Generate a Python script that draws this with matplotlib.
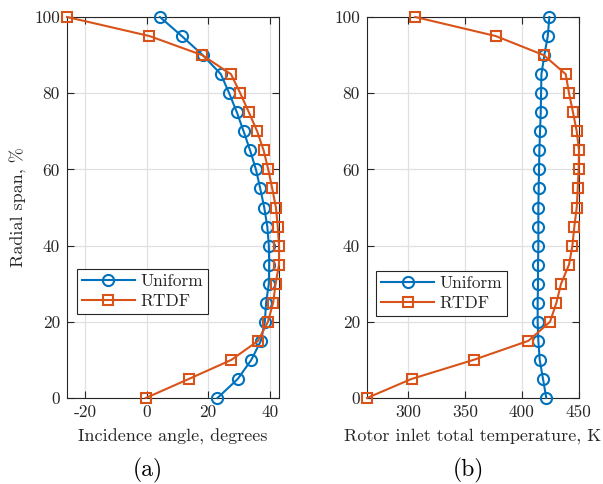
import matplotlib
matplotlib.use("Agg")
import matplotlib.pyplot as plt

plt.rcParams["font.family"] = ["cmr10", "DejaVu Serif"]
plt.rcParams["axes.unicode_minus"] = False
plt.rcParams["mathtext.fontset"] = "cm"

span = [100, 95, 90, 85, 80, 75, 70, 65, 60, 55, 50, 45, 40, 35, 30, 25, 20, 15, 10, 5, 0]

inc_uniform = [4.3, 11.4, 18.2, 24.1, 26.8, 29.3, 31.5, 33.6, 35.5, 36.9, 38.2, 39.2, 39.7,
               39.8, 39.7, 38.8, 38.4, 37.1, 34.0, 29.6, 23.0]
inc_rtdf = [-25.9, 0.9, 18.0, 27.4, 30.4, 33.2, 35.9, 38.0, 39.5, 40.8, 42.0, 42.6, 43.0,
            43.0, 41.9, 41.1, 39.4, 36.2, 27.5, 13.7, -0.3]

temp_uniform = [424.3, 422.9, 419.9, 417.3, 417.0, 416.7, 416.1, 415.5, 415.2, 414.9, 414.6,
                414.6, 414.6, 414.3, 414.3, 414.0, 414.0, 414.6, 415.8, 418.7, 421.6]
temp_rtdf = [306.2, 377.1, 419.3, 438.7, 441.6, 445.1, 448.4, 450.4, 450.1, 449.3, 448.4,
             446.3, 444.6, 441.6, 434.6, 430.5, 424.9, 405.8, 357.5, 302.9, 263.7]

inc_ticks = [-20, 0, 20, 40]
temp_ticks = [300, 350, 400, 450]
span_ticks = [0, 20, 40, 60, 80, 100]

BLUE = "#0072BD"
ORANGE = "#D95319"
DARK = "#262626"
FS = 12.5
LABEL_FS = 13

fig = plt.figure(figsize=(6.03, 4.84), dpi=100)
W, H = 603, 484


def make_axes(x0, x1):
    return fig.add_axes([x0 / W, (H - 398) / H, (x1 - x0) / W, 381 / H])


def draw(ax, uni, rtdf, xticks, leg_anchor):
    ax.plot(uni, span, "-o", color=BLUE, lw=1.5, ms=8, mew=1.5,
            mfc="none", label="Uniform", zorder=3, clip_on=False)
    ax.plot(rtdf, span, "-s", color=ORANGE, lw=1.5, ms=6.5, mew=1.5,
            mfc="none", label="RTDF", zorder=3, clip_on=False)
    # tight limits, like matlab's axis tight
    ax.set_xlim(min(rtdf), max(rtdf))
    ax.set_ylim(0, 100)
    ax.set_xticks(xticks)
    ax.set_yticks(span_ticks)
    ax.grid(True, color="#e0e0e0", lw=0.9)
    ax.set_axisbelow(True)
    ax.tick_params(direction="in", top=True, right=True, length=5, width=0.8,
                   labelsize=FS, colors=DARK, pad=5)
    for s in ax.spines.values():
        s.set_color(DARK)
        s.set_linewidth(0.8)
        s.set_zorder(2.5)
    leg = ax.legend(loc="upper left", bbox_to_anchor=leg_anchor, fontsize=FS,
                    handlelength=3.05, handletextpad=0.3, borderpad=0.3,
                    labelspacing=0.25, borderaxespad=0, fancybox=False,
                    framealpha=1, edgecolor=DARK)
    leg.get_frame().set_linewidth(0.8)
    leg.set_zorder(5)
    for t in leg.get_texts():
        t.set_color(DARK)


ax1 = make_axes(67, 279)
ax2 = make_axes(367, 579)

draw(ax1, inc_uniform, inc_rtdf, inc_ticks, (0.046, 0.339))
draw(ax2, temp_uniform, temp_rtdf, temp_ticks, (0.042, 0.334))

ax1.set_xlabel("Incidence angle, degrees", fontsize=LABEL_FS, color=DARK, labelpad=6)
ax1.set_ylabel("Radial span, %", fontsize=LABEL_FS, color=DARK, labelpad=5)
ax2.set_xlabel("Rotor inlet total temperature, K", fontsize=LABEL_FS, color=DARK, labelpad=6)

fig.text(148 / W, 1 - 470 / H, "(a)", fontsize=17, ha="center", va="center")
fig.text(468 / W, 1 - 470 / H, "(b)", fontsize=17, ha="center", va="center")

fig.savefig("out.png", dpi=100)
